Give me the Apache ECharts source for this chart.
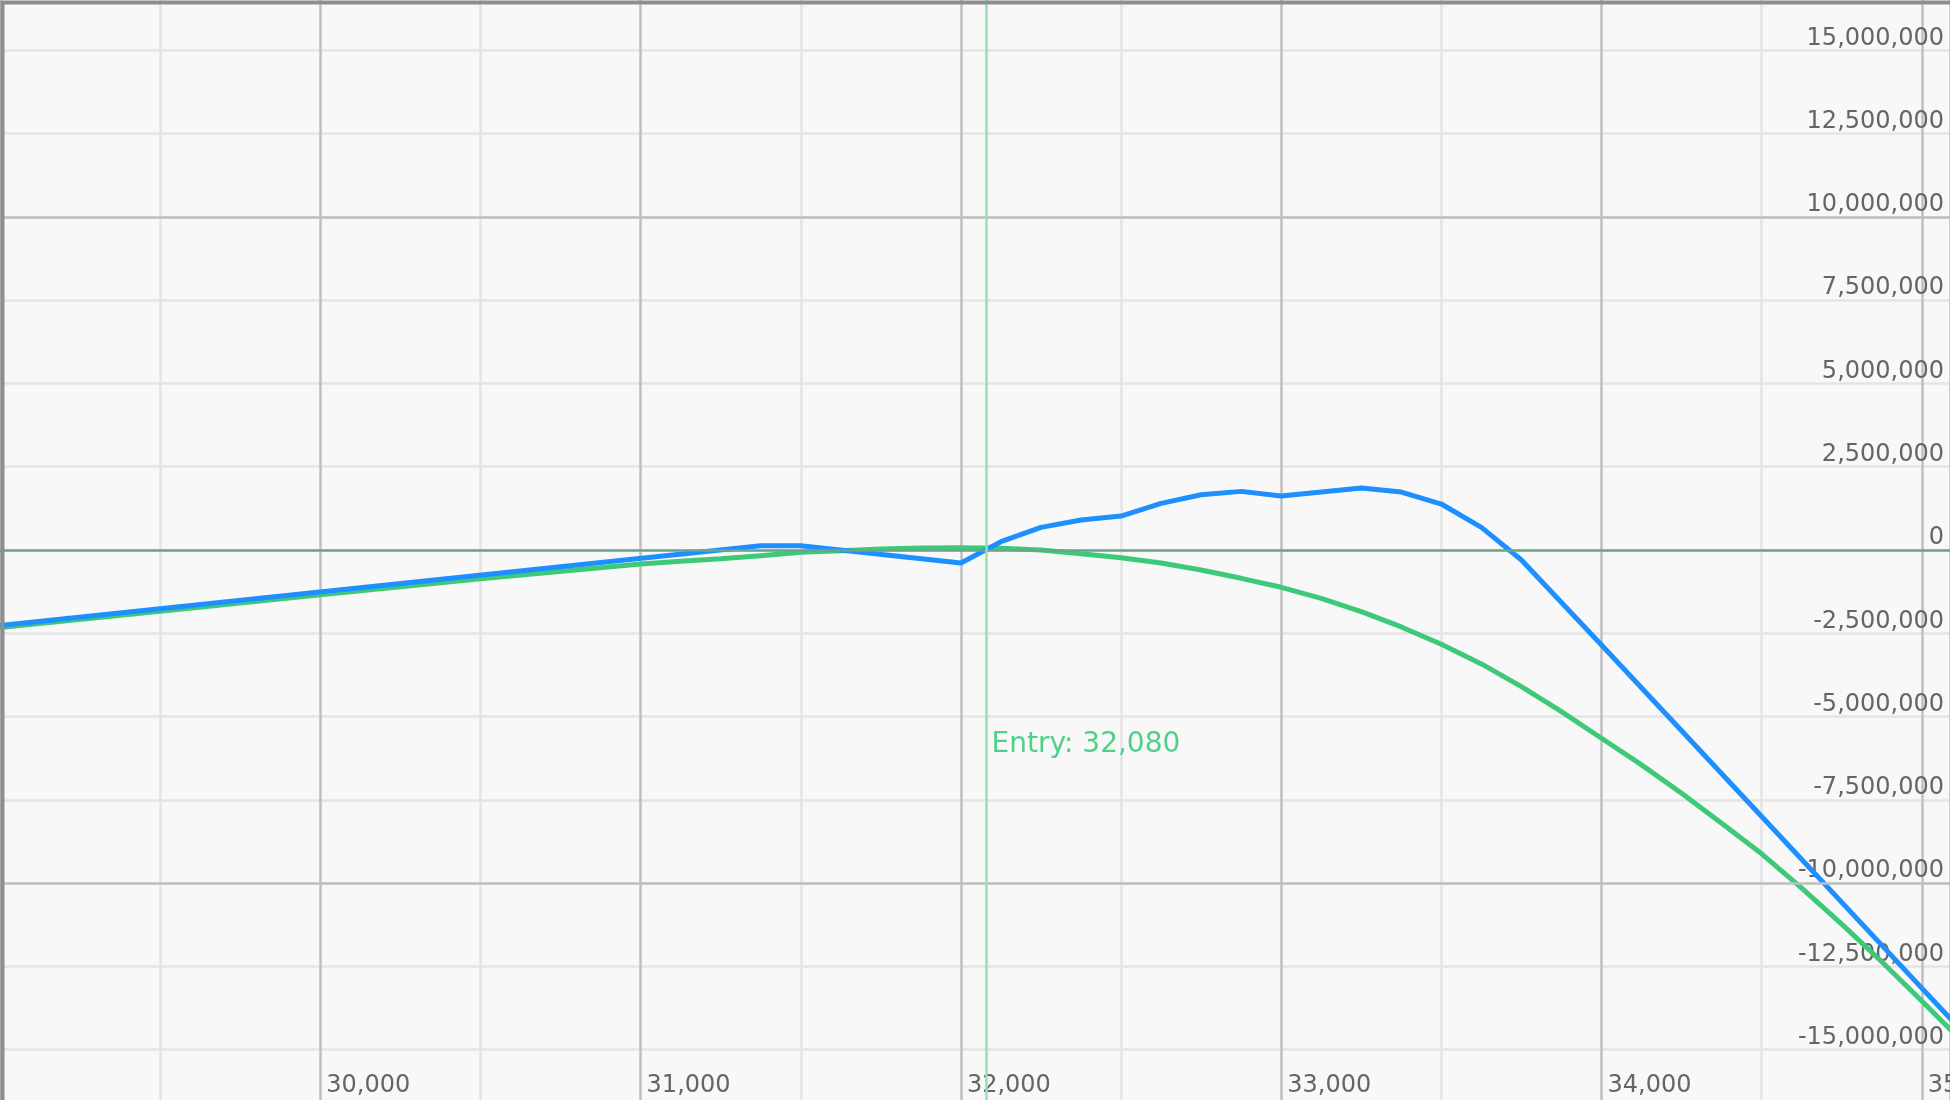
<!DOCTYPE html>
<html>
<head>
<meta charset="utf-8">
<script src="https://cdn.jsdelivr.net/npm/echarts@6/dist/echarts.min.js"></script>
<style>
html,body{margin:0;padding:0;background:#f8f8f8;overflow:hidden}
#c{width:1950px;height:1100px}
</style>
</head>
<body>
<div id="c"></div>
<script>
// ---- data ----
const blueX = [29000, 31375, 31500, 32000, 32125, 32250, 32375, 32500, 32625, 32750, 32875, 33000, 33125, 33250, 33375, 33500, 33625, 33750, 34000, 34500, 35000, 35100];
const blueY = [-2270000, 130000, 130000, -390000, 250000, 680000, 900000, 1020000, 1400000, 1660000, 1760000, 1620000, 1740000, 1860000, 1740000, 1380000, 680000, -300000, -2850000, -8000000, -13150000, -14180000];

const greenX = [29000, 29500, 30000, 30500, 31000, 31125, 31250, 31375, 31500, 31625, 31750, 31875, 32000, 32125, 32250, 32375, 32500, 32625, 32750, 32875, 33000, 33125, 33250, 33375, 33500, 33625, 33750, 33875, 34000, 34125, 34250, 34375, 34500, 34625, 34750, 34875, 35000, 35100];
const greenY = [-2330000, -1840000, -1340000, -860000, -420000, -340000, -260000, -170000, -70000, -20000, 30000, 60000, 70000, 50000, 0, -110000, -230000, -390000, -600000, -850000, -1120000, -1450000, -1850000, -2310000, -2830000, -3420000, -4100000, -4850000, -5650000, -6450000, -7300000, -8200000, -9120000, -10150000, -11230000, -12360000, -13540000, -14500000];

const entryPrice = 32080;
const entryLabel = 'Entry: 32,080';
const entryLabelY = -5830000;
const majorYLines = [-10000000, 10000000];
const zeroLine = 0;

const xMin = 29000, xMax = 35088, xStep = 1000;
const yMin = -17500000, yMax = 17500000, yStep = 2500000;

const fmt = v => Math.round(v).toLocaleString('en-US');
const zip = (xs, ys) => xs.map((x, i) => [x, ys[i]]);

const W = 1950, H = 1100;
const ext = 33; // plot extends beyond canvas top/bottom so that +-16.5M sits at the edges
const chart = echarts.init(document.getElementById('c'), null, {renderer: 'canvas', width: W, height: H});
const labelFont = {color: '#656565', fontFamily: 'DejaVu Sans', fontSize: 24};

chart.setOption({
  animation: false,
  backgroundColor: '#f8f8f8',
  grid: {left: 0, right: 0, top: -ext, bottom: -ext, show: false, containLabel: false, outerBoundsMode: 'none'},
  graphic: [{
    type: 'rect', left: 0, top: 0, z: 100, silent: true,
    shape: {x: 0, y: 0, width: W, height: H},
    style: {fill: 'none', stroke: '#8e8e8e', lineWidth: 4}
  }],
  xAxis: {
    type: 'value', min: xMin, max: xMax, interval: xStep, offset: -ext,
    axisLine: {show: false}, axisTick: {show: false},
    axisLabel: Object.assign({inside: true, align: 'left', verticalAlign: 'bottom', margin: 2, padding: [0, 0, 0, 6], showMinLabel: false, showMaxLabel: false, formatter: fmt}, labelFont),
    splitLine: {show: true, lineStyle: {color: '#bfbfbf', width: 2.5}},
    minorTick: {show: false, splitNumber: 2},
    minorSplitLine: {show: true, lineStyle: {color: '#e4e4e4', width: 2.5}}
  },
  yAxis: {
    type: 'value', position: 'right', min: yMin, max: yMax, interval: yStep,
    axisLine: {show: false}, axisTick: {show: false},
    axisLabel: Object.assign({inside: true, align: 'right', verticalAlign: 'bottom', margin: 6, showMinLabel: false, showMaxLabel: false, formatter: fmt}, labelFont),
    splitLine: {show: true, lineStyle: {color: '#e4e4e4', width: 2.5}}
  },
  series: [
    {
      type: 'line', data: [], z: 1, silent: true,
      markLine: {
        silent: true, symbol: 'none', animation: false,
        label: {show: false},
        data: [
          ...majorYLines.map(v => ({yAxis: v, lineStyle: {color: '#bfbfbf', width: 2.5, type: 'solid'}})),
          {yAxis: zeroLine, lineStyle: {color: '#6aa489', width: 2.5, type: 'solid'}},
          {xAxis: entryPrice, lineStyle: {color: '#94e2b4', width: 2.5, type: 'solid'}}
        ]
      },
      markPoint: {
        silent: true, symbol: 'circle', symbolSize: 0,
        label: {show: true, position: 'right', distance: 5, formatter: entryLabel, color: '#4fcf88', fontFamily: 'DejaVu Sans', fontSize: 28},
        data: [{coord: [entryPrice, entryLabelY]}]
      }
    },
    {
      type: 'line', data: zip(greenX, greenY), z: 3, showSymbol: false, smooth: false,
      lineStyle: {color: '#3ec978', width: 5}
    },
    {
      type: 'line', data: zip(blueX, blueY), z: 4, showSymbol: false, smooth: false,
      lineStyle: {color: '#1e8fff', width: 5}
    }
  ]
});
</script>
</body>
</html>
